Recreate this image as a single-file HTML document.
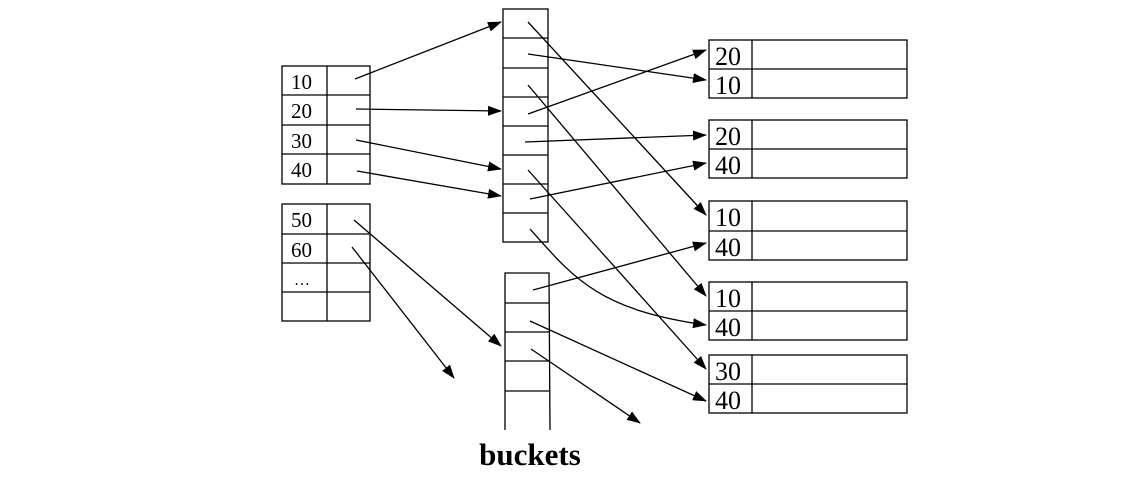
<!DOCTYPE html>
<html><head><style>body{margin:0;background:#fff}svg{display:block}</style></head><body>
<svg width="1137" height="486" viewBox="0 0 1137 486" xmlns="http://www.w3.org/2000/svg">
<defs><marker id="a" markerWidth="14" markerHeight="10" refX="13" refY="5" orient="auto" markerUnits="userSpaceOnUse"><path d="M0,0 L14,5 L0,10 z" fill="#000"/></marker></defs>
<g fill="none" stroke="#000" stroke-width="1.3">
<!-- left table 1 -->
<rect x="282" y="66" width="88" height="118"/>
<line x1="327" y1="66" x2="327" y2="184"/>
<line x1="282" y1="95" x2="370" y2="95"/><line x1="282" y1="125" x2="370" y2="125"/><line x1="282" y1="154" x2="370" y2="154"/>
<!-- left table 2 -->
<rect x="282" y="204" width="88" height="117"/>
<line x1="327" y1="204" x2="327" y2="321"/>
<line x1="282" y1="234" x2="370" y2="234"/><line x1="282" y1="263" x2="370" y2="263"/><line x1="282" y1="292" x2="370" y2="292"/>
<!-- middle buckets -->
<rect x="503" y="9" width="45" height="233"/>
<line x1="503" y1="38" x2="548" y2="38"/><line x1="503" y1="68" x2="548" y2="68"/><line x1="503" y1="97" x2="548" y2="97"/><line x1="503" y1="126" x2="548" y2="126"/><line x1="503" y1="155" x2="548" y2="155"/><line x1="503" y1="184" x2="548" y2="184"/><line x1="503" y1="213" x2="548" y2="213"/>
<!-- lower buckets -->
<path d="M505,430 L505,273 L549,273 L550,430"/>
<line x1="505" y1="303" x2="549" y2="303"/><line x1="505" y1="332" x2="549" y2="332"/><line x1="505" y1="361" x2="549" y2="361"/><line x1="505" y1="391" x2="549" y2="391"/>
<!-- right boxes -->
<rect x="709" y="40" width="198" height="58"/><line x1="709" y1="69" x2="907" y2="69"/><line x1="752" y1="40" x2="752" y2="98"/>
<rect x="709" y="120" width="198" height="58"/><line x1="709" y1="149" x2="907" y2="149"/><line x1="752" y1="120" x2="752" y2="178"/>
<rect x="709" y="201" width="198" height="59"/><line x1="709" y1="231" x2="907" y2="231"/><line x1="752" y1="201" x2="752" y2="260"/>
<rect x="709" y="282" width="198" height="58"/><line x1="709" y1="311" x2="907" y2="311"/><line x1="752" y1="282" x2="752" y2="340"/>
<rect x="709" y="355" width="198" height="58"/><line x1="709" y1="384" x2="907" y2="384"/><line x1="752" y1="355" x2="752" y2="413"/>
</g>
<g fill="none" stroke="#000" stroke-width="1.3" marker-end="url(#a)">
<line x1="355" y1="79" x2="501" y2="22"/>
<line x1="356" y1="109" x2="501" y2="111"/>
<line x1="356" y1="140" x2="501" y2="169"/>
<line x1="357" y1="171" x2="501" y2="196"/>
<line x1="354" y1="220" x2="501" y2="346"/>
<line x1="352" y1="247" x2="454" y2="378"/>
<line x1="528" y1="22" x2="706" y2="215"/>
<line x1="528" y1="54" x2="706" y2="80"/>
<line x1="528" y1="85" x2="706" y2="296"/>
<line x1="528" y1="114" x2="706" y2="50"/>
<line x1="525" y1="142" x2="706" y2="135"/>
<line x1="528" y1="170" x2="706" y2="369"/>
<line x1="530" y1="199" x2="706" y2="163"/>
<path d="M530,229 C575,280 600,310 706,325"/>
<line x1="533" y1="290" x2="706" y2="243"/>
<line x1="530" y1="321" x2="706" y2="401"/>
<line x1="531" y1="349" x2="640" y2="423"/>
</g>
<g font-family="'Liberation Serif',serif" fill="#000">
<g font-size="21">
<text x="291" y="89">10</text><text x="291" y="118">20</text><text x="291" y="148">30</text><text x="291" y="177">40</text>
<text x="291" y="227">50</text><text x="291" y="257">60</text><text x="294" y="285" font-size="16">…</text>
</g>
<g font-size="26">
<text x="715" y="65">20</text><text x="715" y="94">10</text>
<text x="715" y="145">20</text><text x="715" y="174">40</text>
<text x="715" y="226">10</text><text x="715" y="256">40</text>
<text x="715" y="307">10</text><text x="715" y="336">40</text>
<text x="715" y="380">30</text><text x="715" y="409">40</text>
</g>
<text x="530" y="465" font-size="31" font-weight="bold" text-anchor="middle">buckets</text>
</g>
</svg>
</body></html>
